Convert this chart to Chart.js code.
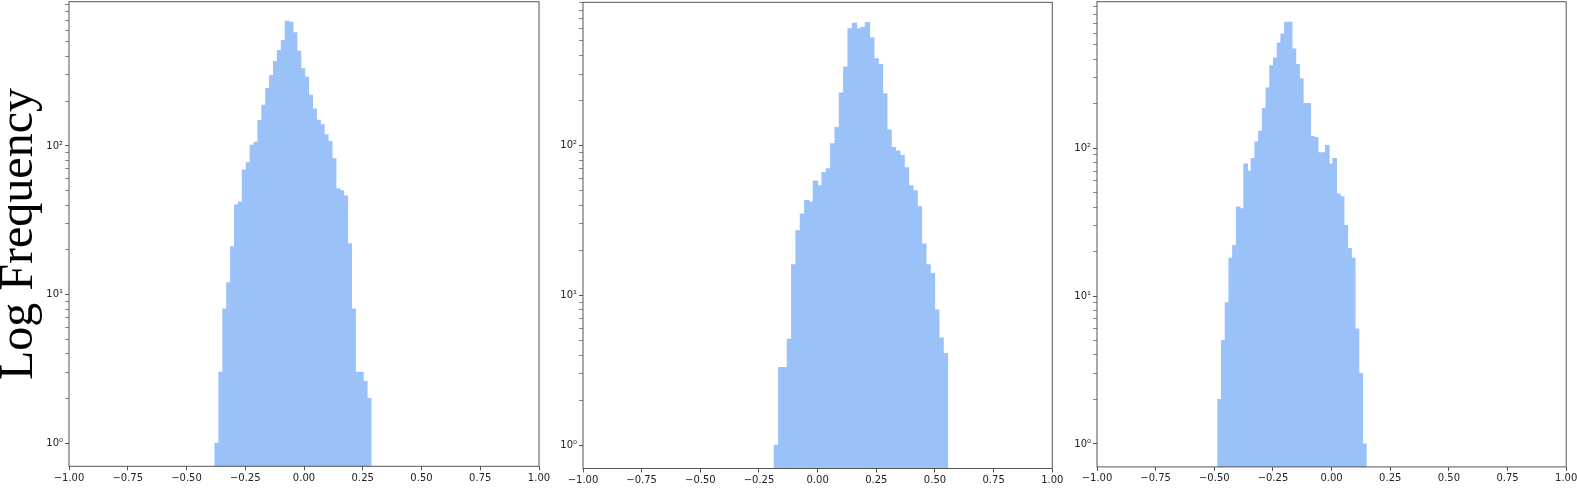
<!DOCTYPE html>
<html><head><meta charset="utf-8">
<script src="https://cdn.jsdelivr.net/npm/chart.js@4/dist/chart.umd.min.js"></script>
<style>
html,body{margin:0;padding:0;background:#fff;width:1577px;height:488px;overflow:hidden;position:relative}
canvas{position:absolute;top:0}
</style></head><body>
<canvas id="p0"></canvas><canvas id="p1"></canvas><canvas id="p2"></canvas>
<script>
// ---- data ----
const countsLeft = [1,3,8,12,21,40,42,69,77,101,106,148,188,243,298,370,439,512,689,679,576,434,331,290,219,177,149,139,119,107,82,51.5,50,46,22,8,3,3,2.6,2];
const countsMiddle = [1,3.3,3.3,5.1,16,27,35,43,42,58,54,66,70,103,132,224,334,601,656,601,614,662,522,379,348,222,127,97,92,86,71,54,50,39,22,16,14,8,5.2,4.1];
const countsRight = [2,5,9,18,22,40,39,78,70,85,110,130,185,255,361,407,514,591,711,711,468,367,294,200,200,120,118,93,93,104,78,85,49,47,30,21,18,6,3,1];
const binRanges = [[-0.3787,0.2851],[-0.185,0.554],[-0.485,0.1475]];
const xTickValues = [-1,-0.75,-0.5,-0.25,0,0.25,0.5,0.75,1];
const yMajorTicks = [1,10,100];
const yMinorSteps = [2,3,4,5,6,7,8,9];
const yTitle = 'Log Frequency';
const yExponentLimits = [[-0.138,2.970],[-0.131,2.956],[-0.146,2.990]];

// ---- layout ----
const boxes = [
  {L:69, R:539, T:1.7, B:466.3, yW:69},
  {L:583, R:1052.3, T:2.3, B:468.5, yW:44},
  {L:1096.5, R:1565.7, T:1.7, B:466.9, yW:44}
];
const X_H = 21, RIGHT_PAD = 11;
const BAR_COLOR = 'rgb(154,194,249)';
const AXIS_COLOR = '#555';
const TICK_FONT = {family:'DejaVu Sans', size:10};
const SUP = {'0':'\u2070','1':'\u00b9','2':'\u00b2','3':'\u00b3'};

const framePlugin = {
  id:'frame',
  afterDatasetsDraw(chart){
    const {ctx, chartArea:a} = chart;
    ctx.save();
    ctx.strokeStyle = AXIS_COLOR; ctx.lineWidth = 1;
    ctx.strokeRect(a.left, a.top, a.right-a.left, a.bottom-a.top);
    ctx.restore();
  }
};

const allCounts = [countsLeft, countsMiddle, countsRight];
const yTickList = [];
yMajorTicks.forEach(m => { yTickList.push(m); yMinorSteps.forEach(s => yTickList.push(m*s)); });

function zeroPad(s){ s.paddingTop = 0; s.paddingBottom = 0; s.paddingLeft = 0; s.paddingRight = 0; }

allCounts.forEach((counts, i) => {
  const b = boxes[i];
  const [lo, hi] = binRanges[i];
  const w = (hi - lo) / counts.length;
  const data = counts.map((v, k) => ({x: lo + (k + 0.5) * w, y: v}));
  const ymin = Math.pow(10, yExponentLimits[i][0]);
  const ymax = Math.pow(10, yExponentLimits[i][1]);
  const cv = document.getElementById('p' + i);
  const cl = b.L - b.yW;
  const cw = Math.min(1577 - cl, (b.R - b.L) + b.yW + RIGHT_PAD + 12);
  cv.width = Math.round(cw); cv.height = 488;
  cv.style.left = cl + 'px';
  const padRight = cv.width - (b.R - cl);
  new Chart(cv, {
    type: 'bar',
    data: { datasets: [{ data, backgroundColor: BAR_COLOR, borderWidth: 0,
      barPercentage: 1, categoryPercentage: 1, inflateAmount: 0.5 }] },
    options: {
      responsive: false, animation: false, devicePixelRatio: 1,
      layout: { autoPadding: false, padding: { left: 0, right: padRight, top: b.T, bottom: 488 - b.B - X_H } },
      plugins: { legend: {display:false}, tooltip: {enabled:false} },
      scales: {
        x: {
          type: 'linear', min: -1, max: 1, offset: false,
          grid: { display: true, offset: false, drawOnChartArea: false, drawTicks: true, tickLength: 4, color: AXIS_COLOR },
          border: { display: false },
          afterFit: s => { s.height = X_H; zeroPad(s); },
          afterBuildTicks: s => { s.ticks = xTickValues.map(v => ({value: v})); },
          ticks: { autoSkip: false, maxRotation: 0, minRotation: 0, padding: 2, color: '#222', font: TICK_FONT,
            callback: v => Number(v).toFixed(2).replace('-', '\u2212') }
        },
        y: {
          type: 'logarithmic', min: ymin, max: ymax,
          grid: { display: true, drawOnChartArea: false, drawTicks: true, tickLength: 4, color: AXIS_COLOR,
            tickWidth: c => (c.tick && yMajorTicks.includes(c.tick.value)) ? 1 : 0.7 },
          border: { display: false },
          afterFit: s => { s.width = b.yW; zeroPad(s); },
          afterBuildTicks: s => { s.ticks = yTickList.filter(v => v >= ymin && v <= ymax).map(v => ({value: v})); },
          ticks: { autoSkip: false, padding: 2, color: '#222', font: TICK_FONT,
            callback: v => yMajorTicks.includes(v) ? '10' + SUP[String(Math.round(Math.log10(v)))] : '' },
          title: i === 0 ? { display: true, text: yTitle, color: '#000', padding: 0,
            font: {family: 'Liberation Serif', size: 48, lineHeight: 0.8} } : { display: false }
        }
      }
    },
    plugins: [framePlugin]
  });
});
</script>
</body></html>
